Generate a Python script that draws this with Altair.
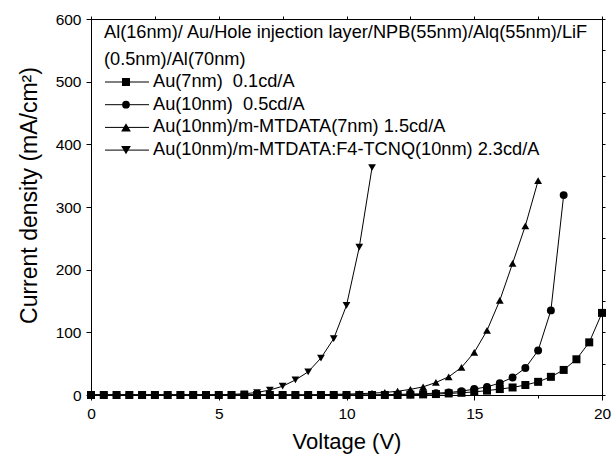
import altair as alt
import pandas as pd

FONT = "Liberation Sans"

# Applied voltage (V), sampled every 0.5 V
VOLTAGE = [0, 0.5, 1, 1.5, 2, 2.5, 3, 3.5, 4, 4.5, 5, 5.5, 6, 6.5, 7, 7.5, 8, 8.5,
           9, 9.5, 10, 10.5, 11, 11.5, 12, 12.5, 13, 13.5, 14, 14.5, 15, 15.5, 16,
           16.5, 17, 17.5, 18, 18.5, 19, 19.5, 20]

# Current density (mA/cm^2) for each device
J_AU7 = [0] * 25 + [0.5, 1, 1.5, 2.5, 3.5, 5, 7, 9.5, 12, 16, 21, 29, 40, 57, 84, 131]
J_AU10 = [0] * 23 + [0.5, 1, 1.5, 2, 3, 4, 6, 9.5, 13, 19, 28, 43, 71, 135, 319]
J_MTDATA = [0] * 18 + [0.5, 1, 1.5, 2, 3, 4, 6, 9, 13, 20, 29, 44, 68, 103, 151,
                       210, 270, 342]
J_DOPED = [0] * 11 + [1, 2, 4, 8, 14, 24, 37, 59, 90, 143, 236, 363]

SERIES = ["Au(7nm)\u00a0 0.1cd/A",
          "Au(10nm)\u00a0 0.5cd/A",
          "Au(10nm)/m-MTDATA(7nm) 1.5cd/A",
          "Au(10nm)/m-MTDATA:F4-TCNQ(10nm) 2.3cd/A"]
SHAPES = ["square", "circle", "triangle-up", "triangle-down"]
SIZES = [64, 60, 95, 95]
HEADER = ["Al(16nm)/ Au/Hole injection layer/NPB(55nm)/Alq(55nm)/LiF",
          "(0.5nm)/Al(70nm)"]

rows = []
for name, vals in zip(SERIES, [J_AU7, J_AU10, J_MTDATA, J_DOPED]):
    for v, j in zip(VOLTAGE, vals):
        rows.append({"series": name, "V": v, "J": j})
df = pd.DataFrame(rows)

W, H = 511, 376
xscale = alt.Scale(domain=[0, 20], nice=False, zero=False)
yscale = alt.Scale(domain=[0, 600], nice=False)

x_ticks = [i * 2.5 for i in range(9)]
y_ticks = [i * 50 for i in range(13)]

x_main = alt.X("V:Q", scale=xscale, title="Voltage (V)",
               axis=alt.Axis(values=x_ticks, grid=False, labelFlush=False,
                             labelExpr="datum.value % 5 === 0 ? format(datum.value, 'd') : ''",
                             tickSize={"condition": {"test": "datum.value % 5 === 0", "value": 5}, "value": 3},
                             labelPadding=6, titleX=W / 2, titleY=53,
                             titleAlign="center", titleBaseline="alphabetic",
                             titleFontSize=22))
y_main = alt.Y("J:Q", scale=yscale, title="Current density (mA/cm²)",
               axis=alt.Axis(values=y_ticks, format="d", grid=False, labelFlush=False,
                             labelExpr="datum.value % 100 === 0 ? datum.label : ''",
                             tickSize={"condition": {"test": "datum.value % 100 === 0", "value": 5}, "value": 3},
                             labelPadding=5, titleX=-55, titleY=176,
                             titleAlign="center", titleBaseline="alphabetic",
                             titleFontSize=23))

shape_enc = alt.Shape("series:N", scale=alt.Scale(domain=SERIES, range=SHAPES), legend=None)
size_enc = alt.Size("series:N", scale=alt.Scale(domain=SERIES, range=SIZES), legend=None)

lines = alt.Chart(df).mark_line(color="black", strokeWidth=1).encode(
    x=x_main, y=y_main, detail="series:N")
points = alt.Chart(df).mark_point(filled=True, color="black", opacity=1).encode(
    x=alt.X("V:Q", scale=xscale), y=alt.Y("J:Q", scale=yscale),
    shape=shape_enc, size=size_enc)

main = alt.layer(lines, points)

# Frame ticks on top and right edges
frame = alt.Chart(df).mark_point(opacity=0).encode(
    x=alt.X("V:Q", scale=xscale, title=None,
            axis=alt.Axis(orient="top", values=x_ticks, labels=False, tickSize=3,
                          grid=False)),
    y=alt.Y("J:Q", scale=yscale, title=None,
            axis=alt.Axis(orient="right", values=y_ticks, labels=False, tickSize=3,
                          grid=False)))

# In-plot header and legend
LEGEND_FS = 18.2
one = pd.DataFrame({"k": [0]})
legend_layers = []
for i, line in enumerate(HEADER):
    legend_layers.append(alt.Chart(one).mark_text(
        text=line, align="left", baseline="middle", font=FONT, fontSize=LEGEND_FS,
        color="black").encode(x=alt.value(13), y=alt.value(14 + 27 * i)))
for i, (name, shp, sz) in enumerate(zip(SERIES, SHAPES, SIZES)):
    yy = 63 + 22.7 * i
    legend_layers.append(alt.Chart(one).mark_rule(color="black", strokeWidth=1).encode(
        x=alt.value(14), x2=alt.value(58), y=alt.value(yy)))
    legend_layers.append(alt.Chart(one).mark_point(
        filled=True, color="black", opacity=1, shape=shp, size=sz).encode(
        x=alt.value(35), y=alt.value(yy)))
    legend_layers.append(alt.Chart(one).mark_text(
        text=name, align="left", baseline="middle", font=FONT, fontSize=LEGEND_FS,
        color="black").encode(x=alt.value(62), y=alt.value(yy)))

chart = alt.layer(main, frame, *legend_layers).resolve_axis(
    x="independent", y="independent"
).properties(
    width=W, height=H,
    autosize=alt.AutoSizeParams(type="none"),
    padding={"left": 91, "top": 19, "right": 12, "bottom": 61},
    background="white",
).configure_view(
    stroke="black", strokeWidth=1
).configure_axis(
    domainColor="black", tickColor="black", labelColor="black", titleColor="black",
    labelFont=FONT, titleFont=FONT, labelFontSize=15.5, titleFontSize=20,
    titleFontWeight="normal", domainWidth=1, tickWidth=1,
)

chart.save("out.html", embed_options={"renderer": "svg", "actions": False})
